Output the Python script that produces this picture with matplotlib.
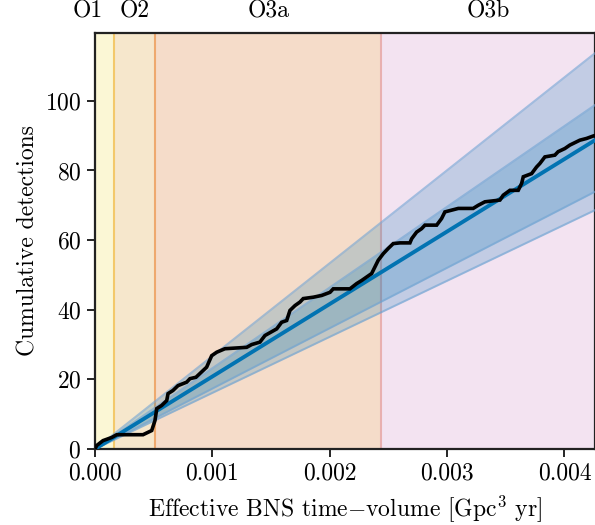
import matplotlib
matplotlib.use("Agg")
import matplotlib.pyplot as plt
from matplotlib.ticker import FormatStrFormatter

plt.rcParams['font.family'] = ['cmr10', 'DejaVu Serif']
plt.rcParams['mathtext.fontset'] = 'cm'
plt.rcParams['axes.formatter.use_mathtext'] = True
plt.rcParams['font.size'] = 17

# observing runs: name, start, end of effective VT
run_names = ["O1", "O2", "O3a", "O3b"]
run_edges = [0.0, 0.000162, 0.000511, 0.00244, 0.00426]
run_fill = ["#fbf7d5", "#f6e7cc", "#f5dcc9", "#f3e3f1"]
run_line = ["#f3c96b", "#eea96e", "#e8b0b0"]
label_x = [-0.00006, 0.000336, 0.001475, 0.00335]

# expected detections: median and bands, at the two ends of the VT range
vt_ends = [0.0, 0.00426]
median = [0.0, 88.7]
outer_hi = [0.0, 113.7]
inner_hi = [0.0, 98.8]
inner_lo = [0.0, 73.9]
outer_lo = [0.0, 68.6]

obs_vt = [0.0, 0.0000145, 0.000068, 0.000142, 0.000185, 0.000409, 0.000483,
          0.000511, 0.000526, 0.000568, 0.000611, 0.000622, 0.000664, 0.000707,
          0.000781, 0.000809, 0.000860, 0.000951, 0.000994, 0.001037, 0.001107,
          0.001292, 0.001335, 0.001405, 0.001448, 0.001548, 0.00159, 0.001633,
          0.001661, 0.001704, 0.001746, 0.001774, 0.00186, 0.001931, 0.002002,
          0.00203, 0.002172, 0.002229, 0.002272, 0.002357, 0.002385, 0.002413,
          0.002456, 0.002498, 0.002541, 0.002598, 0.002683, 0.002698, 0.00274,
          0.002783, 0.002811, 0.002911, 0.002953, 0.002981, 0.003095, 0.003222,
          0.003265, 0.003322, 0.00345, 0.003478, 0.003535, 0.003606, 0.003635,
          0.003649, 0.00372, 0.003762, 0.00379, 0.003833, 0.003918, 0.003946,
          0.004003, 0.004046, 0.004131, 0.004188, 0.004245, 0.0043]
obs_n = [0.0, 1.0, 2.4, 3.3, 4.1, 4.1, 5.3,
         8.2, 11.6, 12.5, 13.9, 15.9, 16.8, 18.2,
         19.2, 20.2, 20.6, 23.5, 26.8, 27.8, 28.8,
         29.2, 30.0, 30.7, 32.6, 34.5, 36.4, 36.9,
         39.8, 41.2, 42.2, 43.2, 43.6, 44.1, 45.0,
         46.0, 46.0, 47.5, 48.4, 50.4, 52.3, 54.2,
         56.1, 57.6, 59.0, 59.2, 59.2, 60.4, 62.3,
         63.3, 64.3, 64.3, 66.2, 68.1, 69.1, 69.1,
         70.0, 71.0, 71.5, 72.9, 74.3, 74.3, 76.3,
         78.2, 79.1, 81.0, 82.0, 83.9, 84.4, 85.4,
         86.3, 87.3, 88.7, 89.2, 89.9, 90.4]

blue = "#0173b2"

fig = plt.figure(figsize=(5.95, 5.25), dpi=100)
ax = fig.add_axes([0.1597, 0.1448, 0.8403, 0.7924])

for i in range(len(run_names)):
    ax.axvspan(run_edges[i], run_edges[i + 1], facecolor=run_fill[i],
               edgecolor="none", zorder=0)
for i, c in enumerate(run_line):
    ax.axvline(run_edges[i + 1], color=c, lw=1.5, zorder=1)
for name, lx in zip(run_names, label_x):
    ax.text(lx, 1.025, name, transform=ax.get_xaxis_transform(),
            ha="center", va="bottom")

ax.fill_between(vt_ends, outer_lo, outer_hi, color=blue, alpha=0.2, lw=0, zorder=2)
ax.fill_between(vt_ends, inner_lo, inner_hi, color=blue, alpha=0.2, lw=0, zorder=2)
for edge in [outer_hi, inner_hi, inner_lo, outer_lo]:
    ax.plot(vt_ends, edge, color="#6fa3d3", alpha=0.6, lw=1.5, zorder=3)
ax.plot(vt_ends, median, color=blue, lw=2.8, zorder=4)
ax.plot(obs_vt, obs_n, color="black", lw=2.6, zorder=5, solid_joinstyle="miter")

ax.set_xlim(0, 0.00426)
ax.set_ylim(0, 119.5)
ax.set_xticks([0.0, 0.001, 0.002, 0.003, 0.004])
ax.xaxis.set_major_formatter(FormatStrFormatter("%.3f"))
ax.set_yticks([0, 20, 40, 60, 80, 100])
ax.tick_params(direction="out", length=6, width=1.2, labelsize=17, pad=4)
for s in ax.spines.values():
    s.set_linewidth(1.6)
    s.set_color("#222222")

ax.set_xlabel("Effective BNS time$-$volume [Gpc$^3$ yr]", labelpad=6)
ax.set_ylabel("Cumulative detections", labelpad=4)

fig.savefig("out.png", dpi=100)
